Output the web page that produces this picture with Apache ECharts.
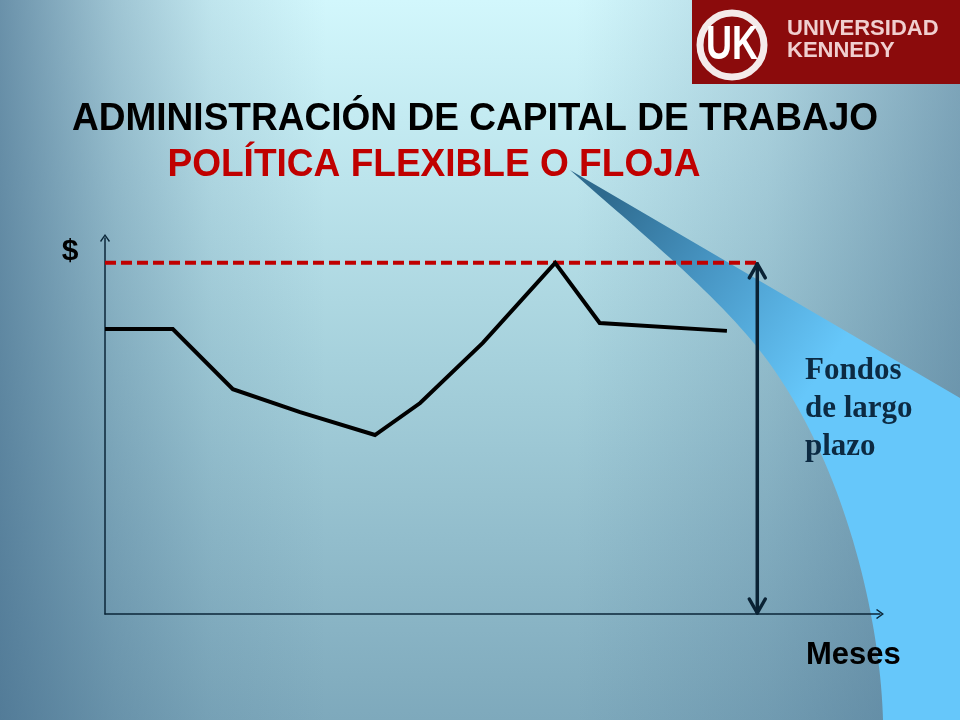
<!DOCTYPE html>
<html>
<head>
<meta charset="utf-8">
<style>
html,body{margin:0;padding:0;width:960px;height:720px;overflow:hidden;background:#a8d3de;}
#chart{width:960px;height:720px;}
</style>
<script src="https://cdn.jsdelivr.net/npm/echarts@6/dist/echarts.min.js"></script>
</head>
<body>
<div id="chart"></div>
<script>
// ---- data ----
const months = [0, 1.05, 1.98, 3.02, 4.18, 4.88, 5.85, 6.97, 7.66, 9.63];
const needs  = [75.8, 75.8, 59.8, 53.7, 47.6, 56.1, 72.1, 93.4, 77.4, 75.3];
const maxLevel = 93.4;      // long-term financing level (dashed line)
const longTermMonth = 10.1; // position of the long-term funds arrow
const xMax = 12;
const yMax = 100;
const titleText = 'ADMINISTRACIÓN DE CAPITAL DE TRABAJO';
const subtitleText = 'POLÍTICA FLEXIBLE O FLOJA';
const yName = '$';
const xName = 'Meses';
const noteLines = ['Fondos', 'de largo', 'plazo'];

const chevron = 'path://M5,0 L10,7 L8.9,8 L5,2.3 L1.1,8 L0,7 Z';
const sans = '"Liberation Sans", Arial, sans-serif';
const serif = '"Liberation Serif", "Times New Roman", serif';

// decorative swoosh outline (cubic bezier segments sampled into a polygon)
function cubic(p0, p1, p2, p3, n) {
  const pts = [];
  for (let i = 0; i <= n; i++) {
    const t = i / n, u = 1 - t;
    pts.push([
      u*u*u*p0[0] + 3*u*u*t*p1[0] + 3*u*t*t*p2[0] + t*t*t*p3[0],
      u*u*u*p0[1] + 3*u*u*t*p1[1] + 3*u*t*t*p2[1] + t*t*t*p3[1]
    ]);
  }
  return pts;
}
const swoosh = [[570, 170], [960, 398], [960, 720]]
  .concat(cubic([883, 720], [880, 610], [840, 450], [757, 347], 40))
  .concat(cubic([757, 347], [707, 285], [620, 215], [570, 170], 30).slice(1, -1));

const chart = echarts.init(document.getElementById('chart'), null, {renderer: 'canvas'});

const lineSeriesData = months.map((m, i) => [m, needs[i]]);

const option = {
  animation: false,
  backgroundColor: 'transparent',
  grid: {left: 105, right: 80, top: 238, bottom: 106, containLabel: false},
  xAxis: {
    type: 'value', min: 0, max: xMax,
    axisLine: {show: true, onZero: false, symbol: ['none', chevron], symbolSize: [10, 8],
      lineStyle: {color: '#0b2638', width: 1.5}},
    axisTick: {show: false}, axisLabel: {show: false}, splitLine: {show: false}
  },
  yAxis: {
    type: 'value', min: 0, max: yMax,
    axisLine: {show: true, symbol: ['none', chevron], symbolSize: [10, 8],
      lineStyle: {color: '#0b2638', width: 1.5}},
    axisTick: {show: false}, axisLabel: {show: false}, splitLine: {show: false}
  },
  series: [
    {
      type: 'line', data: [[0, maxLevel], [longTermMonth, maxLevel]],
      symbol: 'none', silent: true, z: 3,
      lineStyle: {color: '#c00000', width: 4, type: [11, 5]}
    },
    {
      type: 'line', data: lineSeriesData, symbol: 'none', silent: true, z: 4,
      lineStyle: {color: '#000000', width: 4, join: 'miter'}
    },
    {
      type: 'custom', silent: true, z: 5,
      data: [[longTermMonth, 0, maxLevel]],
      renderItem: function (params, api) {
        const top = api.coord([api.value(0), api.value(2)]);
        const bot = api.coord([api.value(0), api.value(1)]);
        const st = {stroke: '#0a2234', lineWidth: 3.5, fill: null, lineJoin: 'round', lineCap: 'round'};
        return {
          type: 'group',
          children: [
            {type: 'line', shape: {x1: top[0], y1: top[1] + 1, x2: bot[0], y2: bot[1] - 1}, style: st},
            {type: 'polyline', shape: {points: [[top[0] - 8, top[1] + 15], [top[0], top[1] + 1], [top[0] + 8, top[1] + 15]]}, style: st},
            {type: 'polyline', shape: {points: [[bot[0] - 8, bot[1] - 15], [bot[0], bot[1] - 1], [bot[0] + 8, bot[1] - 15]]}, style: st}
          ]
        };
      }
    }
  ],
  graphic: [
    // background
    {type: 'rect', z: -20, silent: true, shape: {x: 0, y: 0, width: 960, height: 720},
      style: {fill: {type: 'linear', x: 0, y: 0, x2: 0, y2: 1,
        colorStops: [{offset: 0, color: '#d2f7fc'}, {offset: 0.5, color: '#a6d1dc'}, {offset: 1, color: '#7ea9bc'}]}}},
    {type: 'rect', z: -19, silent: true, shape: {x: 0, y: 0, width: 960, height: 720},
      style: {fill: {type: 'linear', x: 0, y: 0, x2: 1, y2: 0,
        colorStops: [{offset: 0, color: 'rgba(66,106,138,0.72)'}, {offset: 0.12, color: 'rgba(66,106,138,0.36)'},
                     {offset: 0.22, color: 'rgba(66,106,138,0.13)'}, {offset: 0.34, color: 'rgba(66,106,138,0)'},
                     {offset: 0.6, color: 'rgba(66,106,138,0)'}, {offset: 0.8, color: 'rgba(66,106,138,0.22)'},
                     {offset: 1, color: 'rgba(66,106,138,0.56)'}]}}},
    // swoosh
    {type: 'polygon', z: -10, silent: true,
      shape: {points: swoosh},
      style: {fill: {type: 'linear', x: 600, y: 200, x2: 830, y2: 360, global: true,
        colorStops: [{offset: 0, color: '#2e6a8e'}, {offset: 0.45, color: '#4795c3'}, {offset: 1, color: '#66c7fa'}]}}},
    // logo
    {type: 'rect', z: 10, silent: true, shape: {x: 692, y: 0, width: 268, height: 84}, style: {fill: '#8b0b0c'}},
    {type: 'circle', z: 11, silent: true, shape: {cx: 732, cy: 45, r: 32}, style: {fill: null, stroke: '#f4eaea', lineWidth: 7}},
    {type: 'text', z: 12, silent: true, x: 732, y: 46, scaleX: 0.75,
      style: {text: 'UK', font: 'bold 48px ' + sans, fill: '#ffffff', textAlign: 'center', textVerticalAlign: 'middle'}},
    {type: 'text', z: 12, silent: true, x: 787, y: 29,
      style: {text: 'UNIVERSIDAD', font: 'bold 22px ' + sans, fill: '#f0cfcf', textAlign: 'left', textVerticalAlign: 'middle'}},
    {type: 'text', z: 12, silent: true, x: 787, y: 51,
      style: {text: 'KENNEDY', font: 'bold 22px ' + sans, fill: '#f0cfcf', textAlign: 'left', textVerticalAlign: 'middle'}},
    // titles
    {type: 'text', z: 12, silent: true, x: 475, y: 119, scaleX: 0.95,
      style: {text: titleText, font: 'bold 39px ' + sans, fill: '#000000', textAlign: 'center', textVerticalAlign: 'middle'}},
    {type: 'text', z: 12, silent: true, x: 434, y: 165, scaleX: 0.95,
      style: {text: subtitleText, font: 'bold 39px ' + sans, fill: '#c00000', textAlign: 'center', textVerticalAlign: 'middle'}},
    // axis names
    {type: 'text', z: 12, silent: true, x: 70, y: 252,
      style: {text: yName, font: 'bold 30px ' + sans, fill: '#000000', textAlign: 'center', textVerticalAlign: 'middle'}},
    {type: 'text', z: 12, silent: true, x: 806, y: 655,
      style: {text: xName, font: 'bold 31px ' + sans, fill: '#000000', textAlign: 'left', textVerticalAlign: 'middle'}},
    // note
    {type: 'text', z: 12, silent: true, x: 805, y: 371,
      style: {text: noteLines[0], font: 'bold 31px ' + serif, fill: '#0c2a42', textAlign: 'left', textVerticalAlign: 'middle'}},
    {type: 'text', z: 12, silent: true, x: 805, y: 409,
      style: {text: noteLines[1], font: 'bold 31px ' + serif, fill: '#0c2a42', textAlign: 'left', textVerticalAlign: 'middle'}},
    {type: 'text', z: 12, silent: true, x: 805, y: 447,
      style: {text: noteLines[2], font: 'bold 31px ' + serif, fill: '#0c2a42', textAlign: 'left', textVerticalAlign: 'middle'}}
  ]
};
chart.setOption(option);
</script>
</body>
</html>
